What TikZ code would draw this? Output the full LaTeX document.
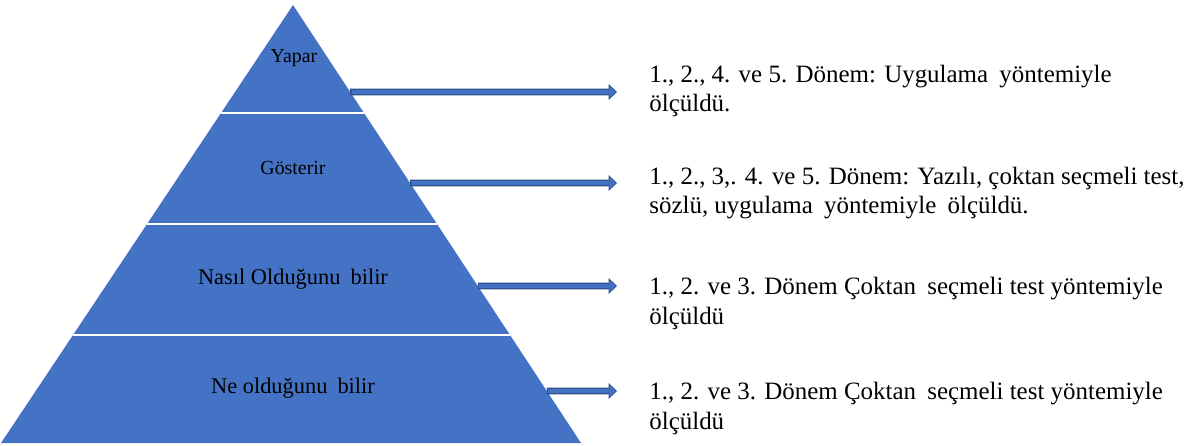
\documentclass[tikz,border=0pt]{standalone}
\usepackage{fontspec}
\setmainfont{Liberation Serif}
\usetikzlibrary{calc,arrows.meta}
\definecolor{pyrblue}{HTML}{4472C4}
\definecolor{pyrline}{HTML}{2F528F}
\tikzset{flow/.style = {draw=pyrline, line width=0.5pt,
           -{Triangle[length=4.8pt,width=9pt,fill=pyrblue]},
           preaction={draw=pyrline, line width=3.8pt, -, shorten >=4.3pt},
           postaction={draw=pyrblue, line width=2.2pt, -, shorten >=4.3pt, shorten <=0.8pt}},
         sep/.style = {draw=white, line width=1.3pt},
         lvl/.style = {inner sep=0pt, font=\fontsize{12.75}{15}\selectfont},
         lvlsmall/.style = {inner sep=0pt, font=\fontsize{11.3}{13}\selectfont},
         desc/.style = {anchor=base west, align=left, inner sep=0pt,
           font=\fontsize{14.2}{17}\selectfont}}

\begin{document}
\begin{tikzpicture}[x=0.02cm, y=-0.02cm]
\useasboundingbox (0,0) rectangle (1191,446);
% pyramid
\coordinate (apex) at (293,5);
\coordinate (bl) at (1,443);
\coordinate (br) at (581,443);
\fill[pyrblue] (apex) -- (bl) -- (br) -- cycle;
\foreach \f in {0.2466,0.5,0.7534}
  \draw[sep] ($(apex)!\f!(bl)$) -- ($(apex)!\f!(br)$);
% levels
\node[lvlsmall] (yapar) at (294,58) {Yapar};
\node[lvlsmall] (gosterir) at (293,168) {Gösterir};
\node[lvl] (nasil) at (293,279) {Nasıl Olduğunu\hspace{0.2em} bilir};
\node[lvl] (ne) at (293,388) {Ne olduğunu\hspace{0.2em} bilir};
% arrows
\foreach \f/\n in {0.1986/1,0.4064/2,0.6416/3,0.8813/4}
  \coordinate (s\n) at ($(apex)!\f!(br)$);
\coordinate (e1) at (617,92);
\coordinate (e2) at (617,183);
\coordinate (e3) at (617,286);
\coordinate (e4) at (617,391);
\foreach \n in {1,...,4}
  \draw[flow] (s\n) -- (e\n);
% descriptions (anchored on the last line)
\node[desc] (d1) at (649,112) {1., 2., 4. ve 5. Dönem: Uygulama\hspace{0.2em} yöntemiyle\\ölçüldü.};
\node[desc] (d2) at (649,214) {1., 2., 3,. 4. ve 5. Dönem: Yazılı, çoktan seçmeli test,\\sözlü, uygulama\hspace{0.2em} yöntemiyle\hspace{0.2em} ölçüldü.};
\node[desc] (d3) at (649,324) {1., 2. ve 3. Dönem Çoktan\hspace{0.2em} seçmeli test yöntemiyle\\ölçüldü};
\node[desc] (d4) at (649,429) {1., 2. ve 3. Dönem Çoktan\hspace{0.2em} seçmeli test yöntemiyle\\ölçüldü};
\end{tikzpicture}
\end{document}
